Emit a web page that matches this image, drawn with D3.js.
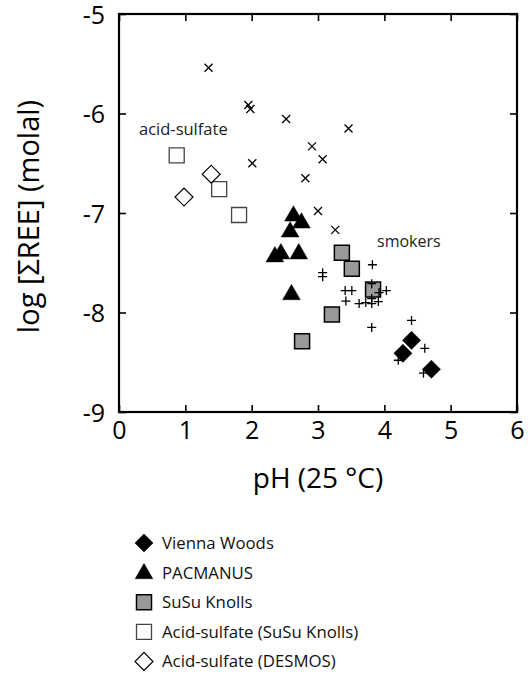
<!DOCTYPE html>
<html>
<head>
<meta charset="utf-8">
<script src="https://cdn.jsdelivr.net/npm/d3@7"></script>
<style>
  html, body { margin: 0; padding: 0; background: #fff; }
  svg { display: block; font-family: "Open Sans", "Noto Sans", sans-serif; }
</style>
</head>
<body>
<svg id="chart" width="529" height="678"></svg>
<script>
// Axis ticks
const xTicks = [0, 1, 2, 3, 4, 5, 6];
const yTicks = [-9, -8, -7, -6, -5];

// Unlabelled vent fluids (x marks)
const otherPH  = [1.35, 1.95, 1.98, 2.52, 3.46, 2.91, 3.07, 2.01, 2.81, 3.00, 3.26];
const otherREE = [-5.54, -5.915, -5.955, -6.055, -6.15, -6.33, -6.46, -6.50, -6.65, -6.98, -7.17];

// Black smoker fluids (+ marks)
const smokerPH  = [3.82, 3.07, 3.07, 3.41, 3.51, 3.81, 3.92, 4.03, 3.42, 3.62, 3.72, 3.81, 3.91, 3.81, 3.81, 4.41, 4.61, 4.21, 4.59];
const smokerREE = [-7.52, -7.60, -7.64, -7.78, -7.78, -7.71, -7.80, -7.78, -7.885, -7.91, -7.90, -7.91, -7.89, -7.86, -8.15, -8.08, -8.36, -8.48, -8.61];

// Vienna Woods
const viennaPH  = [4.41, 4.28, 4.71];
const viennaREE = [-8.28, -8.41, -8.57];

// PACMANUS
const pacmanusPH  = [2.63, 2.75, 2.58, 2.35, 2.44, 2.71, 2.60];
const pacmanusREE = [-7.03, -7.10, -7.19, -7.44, -7.41, -7.41, -7.82];

// SuSu Knolls
const susuPH  = [3.36, 3.51, 3.83, 3.21, 2.76];
const susuREE = [-7.40, -7.56, -7.77, -8.02, -8.29];

// Acid-sulfate (SuSu Knolls)
const acidSusuPH  = [0.87, 1.51, 1.81];
const acidSusuREE = [-6.42, -6.76, -7.02];

// Acid-sulfate (DESMOS)
const desmosPH  = [1.39, 0.98];
const desmosREE = [-6.61, -6.84];

const legendLabels = ["Vienna Woods", "PACMANUS", "SuSu Knolls", "Acid-sulfate (SuSu Knolls)", "Acid-sulfate (DESMOS)"];

const svg = d3.select("#chart");
const x = d3.scaleLinear().domain([0, 6]).range([119, 517]);
const y = d3.scaleLinear().domain([-9, -5]).range([412, 14]);

// Stroke-only marks
const plusType = {
  draw(ctx, size) {
    const r = Math.sqrt(size) / 2;
    ctx.moveTo(-r, 0); ctx.lineTo(r, 0);
    ctx.moveTo(0, -r); ctx.lineTo(0, r);
  }
};
const timesType = {
  draw(ctx, size) {
    const r = Math.sqrt(size) / 2;
    ctx.moveTo(-r, -r); ctx.lineTo(r, r);
    ctx.moveTo(-r, r); ctx.lineTo(r, -r);
  }
};

const series = [
  { ph: otherPH,    ree: otherREE,    type: timesType,          size: 64,  rot: 0,  fill: "none", stroke: "#000", sw: 1.3 },
  { ph: acidSusuPH, ree: acidSusuREE, type: d3.symbolSquare,    size: 225, rot: 0,  fill: "#fff", stroke: "#444", sw: 1.3 },
  { ph: desmosPH,   ree: desmosREE,   type: d3.symbolSquare,    size: 160, rot: 45, fill: "#fff", stroke: "#000", sw: 1.2 },
  { ph: pacmanusPH, ree: pacmanusREE, type: d3.symbolTriangle,  size: 135, rot: 0,  fill: "#000", stroke: "#000", sw: 0.5 },
  { ph: susuPH,     ree: susuREE,     type: d3.symbolSquare,    size: 225, rot: 0,  fill: "#999", stroke: "#000", sw: 1.5 },
  { ph: smokerPH,   ree: smokerREE,   type: plusType,           size: 81,  rot: 0,  fill: "none", stroke: "#000", sw: 1.3 },
  { ph: viennaPH,   ree: viennaREE,   type: d3.symbolSquare,    size: 165, rot: 45, fill: "#000", stroke: "#000", sw: 0.5 }
];

const marks = svg.append("g");
series.forEach(s => {
  const gen = d3.symbol().type(s.type).size(s.size);
  marks.append("g").selectAll("path")
    .data(d3.range(s.ph.length))
    .join("path")
    .attr("d", gen)
    .attr("transform", i => `translate(${x(s.ph[i])},${y(s.ree[i])}) rotate(${s.rot})`)
    .attr("fill", s.fill)
    .attr("stroke", s.stroke)
    .attr("stroke-width", s.sw);
});

// Axes with inward ticks on all four sides
const tickLen = 7;
const axB = svg.append("g").attr("transform", `translate(0,${y(-9)})`)
  .call(d3.axisBottom(x).tickValues(xTicks).tickSizeInner(-tickLen).tickSizeOuter(0).tickPadding(9).tickFormat(d => String(d)));
const axL = svg.append("g").attr("transform", `translate(${x(0)},0)`)
  .call(d3.axisLeft(y).tickValues(yTicks).tickSizeInner(-tickLen).tickSizeOuter(0).tickPadding(14).tickFormat(d => String(d)));
svg.append("g").attr("transform", `translate(0,${y(-5)})`)
  .call(d3.axisTop(x).tickValues(xTicks).tickSizeInner(-tickLen).tickSizeOuter(0).tickFormat(""));
svg.append("g").attr("transform", `translate(${x(6)},0)`)
  .call(d3.axisRight(y).tickValues(yTicks).tickSizeInner(-tickLen).tickSizeOuter(0).tickFormat(""));

svg.selectAll(".domain").remove();
svg.selectAll(".tick line").attr("stroke", "#000").attr("stroke-width", 1.6);
axB.selectAll("text").attr("font-size", 25).attr("font-family", "Open Sans").attr("fill", "#000");
axL.selectAll("text").attr("font-size", 25).attr("font-family", "Open Sans").attr("fill", "#000").attr("dy", "0.36em");

// Frame
svg.append("rect")
  .attr("x", x(0)).attr("y", y(-5))
  .attr("width", x(6) - x(0)).attr("height", y(-9) - y(-5))
  .attr("fill", "none").attr("stroke", "#000").attr("stroke-width", 2.2);

// Axis titles
svg.append("text")
  .attr("x", (x(0) + x(6)) / 2).attr("y", 488)
  .attr("text-anchor", "middle").attr("font-size", 28).attr("fill", "#000")
  .text("pH (25 °C)");
svg.append("text")
  .attr("transform", `translate(39,${(88 + 345) / 2}) rotate(-90)`)
  .attr("text-anchor", "middle").attr("font-size", 29).attr("fill", "#000")
  .text("log [ΣREE] (molal)");

// Group annotations
svg.append("text").attr("x", 139).attr("y", 135).attr("font-size", 16.5).attr("fill", "#222").text("acid-sulfate");
svg.append("text").attr("x", 377).attr("y", 247).attr("font-size", 16).attr("fill", "#222").text("smokers");

// Legend
const legendSeries = [6, 3, 4, 1, 2];
const legend = svg.append("g");
legendLabels.forEach((label, i) => {
  const s = series[legendSeries[i]];
  const cy = 543 + i * 29.6;
  legend.append("path")
    .attr("d", d3.symbol().type(s.type).size(s.size)())
    .attr("transform", `translate(144,${cy + (s.type === d3.symbolTriangle ? 1 : 0)}) rotate(${s.rot})`)
    .attr("fill", s.fill).attr("stroke", s.stroke).attr("stroke-width", s.sw);
  legend.append("text")
    .attr("x", 162).attr("y", cy).attr("dy", "0.36em")
    .attr("font-size", 16.8).attr("fill", "#111")
    .text(label);
});
</script>
</body>
</html>
